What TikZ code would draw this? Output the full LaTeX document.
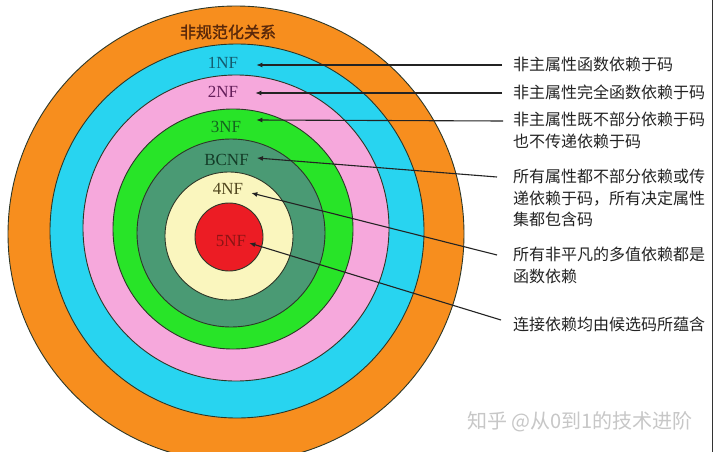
\documentclass[tikz,border=0pt]{standalone}
\usepackage{fontspec}
\setmainfont{Liberation Serif}
\newfontfamily\cjk{Noto Sans CJK SC}
\newfontfamily\cjkb[FakeBold=1.5]{Noto Sans CJK SC}
\usetikzlibrary{arrows.meta}
\definecolor{orangeC}{RGB}{247,142,30}
\definecolor{cyanC}{RGB}{40,212,240}
\definecolor{pinkC}{RGB}{246,168,220}
\definecolor{greenC}{RGB}{40,228,40}
\definecolor{dgreenC}{RGB}{74,154,116}
\definecolor{yellowC}{RGB}{250,246,190}
\definecolor{redC}{RGB}{236,28,36}
\definecolor{ringline}{RGB}{45,55,40}
\definecolor{txtC}{RGB}{35,35,35}
\tikzset{
  ring/.style={circle, draw=ringline, line width=0.9pt, inner sep=0pt},
  lab/.style={font=\fontsize{17}{17}\selectfont, inner sep=0pt},
  desc/.style={font=\cjk\fontsize{16}{21.5}\selectfont, text=txtC, align=left, inner sep=0pt, anchor=north west},
  arr/.style={draw=txtC, line width=1.1pt, -{Latex[length=6pt,width=5pt]}}
}
\begin{document}
\begin{tikzpicture}[x=1pt,y=-1pt]
\useasboundingbox[fill=white] (0,0) rectangle (720,452);
\clip (0,0) rectangle (720,452);
% rings
\node[ring, fill=orangeC, minimum size=456pt] (r0) at (236,234) {};
\node[ring, fill=cyanC, minimum size=374pt] (r1) at (237,231) {};
\node[ring, fill=pinkC, minimum size=306pt] (r2) at (236,228) {};
\node[ring, fill=greenC, minimum size=240pt] (r3) at (233,229) {};
\node[ring, fill=dgreenC, minimum size=188pt] (r4) at (231,233) {};
\node[ring, fill=yellowC, minimum size=128pt] (r5) at (229,236) {};
\node[ring, fill=redC, minimum size=68pt] (r6) at (229,237) {};
% labels
\node[inner sep=0pt, font=\cjkb\fontsize{16}{16}\selectfont, text={rgb,255:red,90;green,40;blue,10}] (l0) at (228,32) {非规范化关系};
\node[lab, text={rgb,255:red,20;green,90;blue,110}] (l1) at (223,63) {1NF};
\node[lab, text={rgb,255:red,100;green,30;blue,90}] (l2) at (223,92) {2NF};
\node[lab, text={rgb,255:red,20;green,100;blue,30}] (l3) at (226,127) {3NF};
\node[lab, text={rgb,255:red,20;green,60;blue,40}] (l4) at (226.5,160) {BCNF};
\node[lab, text={rgb,255:red,80;green,70;blue,30}] (l5) at (228,189) {4NF};
\node[lab, text={rgb,255:red,140;green,20;blue,20}] (l6) at (231,241) {5NF};
% descriptions
\node[desc] (t1) at (513,57) {非主属性函数依赖于码};
\node[desc] (t2) at (513,85) {非主属性完全函数依赖于码};
\node[desc] (t3) at (513,112) {非主属性既不部分依赖于码\\也不传递依赖于码};
\node[desc] (t4) at (513,169) {所有属性都不部分依赖或传\\递依赖于码，所有决定属性\\集都包含码};
\node[desc] (t5) at (513,247) {所有非平凡的多值依赖都是\\函数依赖};
\node[desc] (t6) at (513,317) {连接依赖均由候选码所蕴含};
% arrows
\coordinate (s1) at (502,65);
\coordinate (s2) at (502,93);
\coordinate (s3) at (503,121);
\coordinate (s4) at (497,177);
\coordinate (s5) at (497,255);
\coordinate (s6) at (501,320);
\draw[arr] (s1) -- ([shift={(18,2)}]l1.east);
\draw[arr] (s2) -- ([shift={(17,1)}]l2.east);
\draw[arr] (s3) -- ([shift={(15,-7)}]l3.east);
\draw[arr] (s4) -- ([shift={(8,-2)}]l4.east);
\draw[arr] (s5) -- ([shift={(8,4)}]l5.east);
\draw[arr] (s6) -- ([shift={(3,2)}]l6.east);
% right border
\draw[line width=1pt, black!80] (712,0) -- (712,452);
% watermark
\node[font=\cjk\fontsize{20}{20}\selectfont, text=white] (wm2) at (581.5,423.5) {知乎 @从0到1的技术进阶};
\node[font=\cjk\fontsize{20}{20}\selectfont, text=black!22] (wm) at (580,422) {知乎 @从0到1的技术进阶};
\end{tikzpicture}
\end{document}
